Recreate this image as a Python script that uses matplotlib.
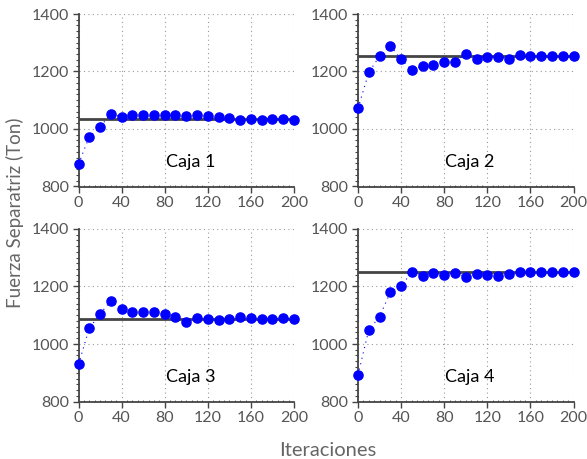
import matplotlib
matplotlib.use("Agg")
import matplotlib.pyplot as plt
from matplotlib.ticker import MultipleLocator

plt.rcParams["font.family"] = ["Lato", "DejaVu Sans"]

# iteration axis shared by the four boxes
iters = [0, 10, 20, 30, 40, 50, 60, 70, 80, 90, 100,
         110, 120, 130, 140, 150, 160, 170, 180, 190, 200]

caja1 = [878, 973, 1008, 1051, 1043, 1048, 1047, 1048, 1048, 1048, 1044,
         1047, 1046, 1040, 1038, 1032, 1036, 1033, 1034, 1036, 1033]
caja2 = [1072, 1197, 1253, 1290, 1242, 1206, 1219, 1222, 1234, 1234, 1260,
         1243, 1249, 1250, 1243, 1257, 1253, 1254, 1254, 1253, 1253]
caja3 = [929, 1055, 1104, 1151, 1121, 1113, 1110, 1110, 1104, 1094, 1077,
         1090, 1088, 1085, 1087, 1094, 1091, 1086, 1088, 1090, 1088]
caja4 = [892, 1049, 1095, 1180, 1200, 1252, 1238, 1248, 1241, 1248, 1234,
         1244, 1239, 1238, 1244, 1249, 1249, 1249, 1249, 1249, 1249]

# converged reference force per box
ref_values = [1034, 1253, 1088, 1249]
labels = ["Caja 1", "Caja 2", "Caja 3", "Caja 4"]
series = [caja1, caja2, caja3, caja4]

W, H = 587, 459
fig = plt.figure(figsize=(W / 100, H / 100), dpi=100)

# (left, top) pixel corners of each panel
corners = [(78.5, 14), (358, 14), (78.5, 229), (358, 229)]
pw, ph = 215.5, 172.5

for (x0, y0), ys, ref, lab in zip(corners, series, ref_values, labels):
    ax = fig.add_axes([x0 / W, 1 - (y0 + ph) / H, pw / W, ph / H])
    ax.set_xlim(0, 200)
    ax.set_ylim(800, 1400)
    ax.xaxis.set_major_locator(MultipleLocator(40))
    ax.yaxis.set_major_locator(MultipleLocator(200))
    ax.yaxis.set_minor_locator(MultipleLocator(20))
    ax.xaxis.set_minor_locator(MultipleLocator(5))
    ax.grid(True, which="major", linestyle=(0, (1, 3)), color="#999999", linewidth=0.8)
    ax.set_axisbelow(True)
    for s in ("top", "right"):
        ax.spines[s].set_visible(False)
    for s in ("left", "bottom"):
        ax.spines[s].set_color("#444444")
        ax.spines[s].set_linewidth(1.3)
    ax.tick_params(which="major", direction="out", length=4, width=1.0,
                   color="#444444", labelsize=11.5, labelcolor="#555555", pad=3)
    ax.tick_params(axis="y", which="minor", direction="out", length=2,
                   width=0.8, color="#444444")
    ax.tick_params(axis="x", which="minor", direction="in", length=1.5,
                   width=0.6, color="#444444")

    ax.plot(iters, ys, linestyle=(0, (1, 4)), color="blue", linewidth=0.8,
            marker="o", markersize=6.6, markerfacecolor="blue",
            markeredgecolor="blue", clip_on=False, zorder=3)
    ax.axhline(ref, color="#444444", linewidth=2.0, zorder=2.5)
    ax.text(104, 885, lab, ha="center", va="center", fontsize=13,
            color="black")

fig.text(15 / W, 1 - 213 / H, "Fuerza Separatriz (Ton)", rotation=90,
         ha="center", va="center", fontsize=13.5, color="#666666")
fig.text(328 / W, 1 - 451 / H, "Iteraciones", ha="center", va="center",
         fontsize=14.5, color="#666666")

fig.savefig("out.png", dpi=100)
